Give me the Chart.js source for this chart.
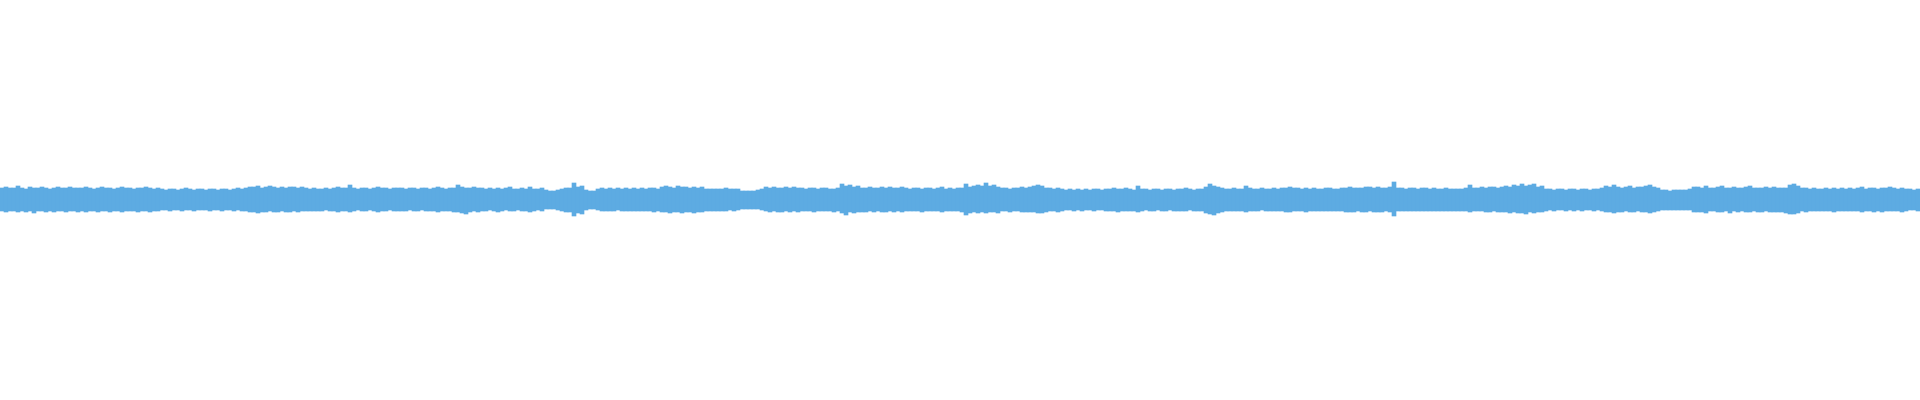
<!DOCTYPE html>
<html>
<head>
<meta charset="utf-8">
<title>Waveform</title>
<script src="https://cdn.jsdelivr.net/npm/chart.js@4/dist/chart.umd.min.js"></script>
<style>
  html, body { margin: 0; padding: 0; background: #ffffff; overflow: hidden; }
  #wrap { width: 1920px; height: 400px; }
</style>
</head>
<body>
<div id="wrap"><canvas id="wave" width="1920" height="400"></canvas></div>
<script>
/* Peak envelope of the waveform, one column per 4 px.
   upperPeaks = height above the centre line, lowerPeaks = depth below it. */

var upperPeaks = [
  12,13,12,12,14,12,11,13,12,12,13,12,11,12,13,12,12,13,12,12,
  12,13,12,11,12,13,12,12,11,12,13,12,12,11,12,12,13,12,11,12,
  11,10,11,11,10,11,12,11,10,11,11,10,11,11,10,11,11,10,11,12,
  11,12,13,13,14,12,13,14,13,12,13,12,13,13,12,13,12,11,12,11,
  11,12,11,12,13,12,12,15,12,11,12,12,11,12,13,12,12,11,12,12,
  12,11,12,12,11,12,12,11,12,13,12,11,12,12,15,13,12,12,13,12,
  12,11,12,11,12,11,12,13,11,11,12,11,13,11,11,12,10,9,9,10,
  11,12,12,17,13,14,10,9,9,11,12,11,12,11,12,11,12,11,12,11,
  12,11,12,12,11,13,14,13,12,14,13,13,12,13,12,13,11,11,11,11,
  11,12,11,11,11,9,9,9,9,10,11,13,12,13,12,12,13,12,13,12,
  12,11,12,12,11,12,12,11,11,12,16,14,15,13,14,12,12,13,12,12,
  13,12,13,12,12,13,12,11,12,12,11,12,12,11,12,13,11,12,11,12,
  12,16,13,14,15,14,17,14,15,13,12,12,11,12,12,13,12,13,14,15,
  14,12,12,11,12,11,10,11,10,11,10,11,10,11,11,10,11,11,12,11,
  11,12,11,10,14,11,11,10,11,11,10,11,11,10,11,11,12,11,10,11,
  11,13,16,14,13,12,11,11,12,11,11,14,12,11,11,12,11,11,12,11,
  12,12,13,12,12,11,12,11,12,11,11,12,12,11,11,12,12,13,12,12,
  12,13,13,12,13,12,12,13,18,12,12,11,12,12,11,12,12,11,12,11,
  11,12,11,11,11,11,12,15,12,12,13,12,13,13,12,13,14,13,15,14,
  16,14,15,16,13,14,11,11,10,11,11,10,11,11,10,11,11,10,11,11,
  12,14,13,15,13,12,13,14,12,13,13,14,15,13,12,10,10,9,10,10,
  10,10,11,13,13,12,14,12,12,13,14,12,12,13,12,12,13,14,12,12,
  12,13,12,13,12,12,12,15,16,14,12,12,11,12,11,11,12,11,12,11,
  12,11,12,11,12,13,11,12,12,11,12,12,13,12,11,12,11,11,10,11
];

var lowerPeaks = [
  11,12,11,11,12,11,12,11,13,11,11,12,11,12,11,11,12,11,11,12,
  11,12,11,11,12,11,11,12,11,11,12,11,11,11,12,11,11,12,11,11,
  10,10,11,10,10,11,10,10,11,10,10,10,11,10,10,11,10,10,11,10,
  11,11,12,12,13,12,12,11,12,12,11,12,12,11,12,11,11,11,11,11,
  11,10,11,11,12,11,11,12,11,10,11,11,10,11,12,11,11,10,11,11,
  11,11,10,11,11,10,11,11,11,12,11,11,11,12,12,13,14,12,11,12,
  11,11,10,11,12,11,10,11,11,10,11,11,12,11,10,11,9,9,9,10,
  11,12,12,16,13,14,10,9,9,10,11,11,11,11,10,11,11,11,11,11,
  11,11,11,12,11,12,12,13,12,12,13,12,12,13,12,12,11,11,11,11,
  11,11,10,11,10,9,9,9,9,9,10,11,12,11,12,12,11,12,11,12,
  11,11,11,12,11,11,11,11,12,11,13,15,12,13,12,12,12,11,12,11,
  12,12,11,12,11,12,11,11,11,11,12,11,11,11,11,12,11,11,11,11,
  12,15,13,12,13,12,13,12,12,13,11,11,12,11,11,12,12,12,12,13,
  13,12,11,11,12,11,10,10,11,10,11,10,10,11,10,10,11,11,11,12,
  11,11,11,11,12,11,10,11,11,10,11,11,10,11,11,11,11,10,11,11,
  11,13,14,15,13,12,11,11,11,11,11,12,11,11,11,10,11,11,11,11,
  11,12,12,11,11,11,12,11,11,11,11,11,11,11,11,11,12,12,12,11,
  12,12,11,12,12,12,11,12,16,11,11,11,11,11,11,11,11,11,11,11,
  11,11,11,11,11,11,11,12,11,11,11,12,12,11,12,12,12,13,12,13,
  13,14,12,13,12,12,11,10,11,10,10,11,10,11,10,11,10,10,11,10,
  11,12,12,13,12,12,11,12,12,11,12,12,13,12,11,10,10,10,10,10,
  10,10,10,12,12,12,13,11,11,12,12,11,13,11,12,11,12,12,11,12,
  12,11,12,12,12,12,13,14,14,13,11,12,11,11,11,11,11,11,12,11,
  11,11,11,11,11,12,11,11,12,11,12,11,11,11,11,12,11,10,10,11
];

var yMin = -200;
var yMax = 200;

(function () {
  var labels = upperPeaks.map(function (_, i) { return String(i); });
  var ranges = upperPeaks.map(function (up, i) { return [-lowerPeaks[i], up]; });

  new Chart(document.getElementById('wave'), {
    type: 'bar',
    data: {
      labels: labels,
      datasets: [
        {
          label: 'Amplitude',
          data: ranges,
          backgroundColor: '#5dabe2',
          borderWidth: 0,
          barPercentage: 1,
          categoryPercentage: 1,
        },
      ],
    },
    options: {
      responsive: false,
      animation: false,
      devicePixelRatio: 1,
      layout: { padding: 0 },
      plugins: {
        legend: { display: false },
        tooltip: { enabled: false },
      },
      scales: {
        x: { display: false, grid: { display: false } },
        y: { display: false, min: yMin, max: yMax, grid: { display: false } },
      },
    },
  });
})();
</script>
</body>
</html>
